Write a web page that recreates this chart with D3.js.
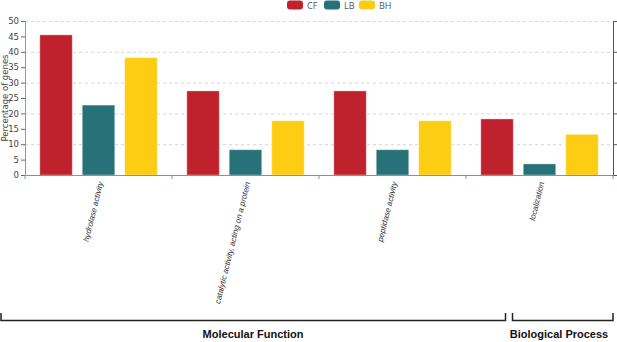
<!doctype html>
<html>
<head>
<script type="text/javascript" src="https://cdn.jsdelivr.net/npm/d3@7/dist/d3.min.js"></script>
<style>
  body { margin: 0; background: #fff; }
  svg { display: block; }
</style>
</head>
<body>
<svg width="617" height="342"></svg>
<script type="text/javascript">
var categories = ["hydrolase activity", "catalytic activity, acting on a protein", "peptidase activity", "localization"];
var seriesNames = ["CF", "LB", "BH"];
var seriesColors = ["#c0222d", "#277178", "#fccd12"];
var cfValues = [45.5, 27.3, 27.3, 18.2];
var lbValues = [22.7, 8.2, 8.2, 3.6];
var bhValues = [38.1, 17.6, 17.6, 13.2];
var yTicks = [0, 5, 10, 15, 20, 25, 30, 35, 40, 45, 50];
var gridTicks = [10, 20, 30, 40, 50];
var groups = [
  {name: "Molecular Function", from: 0, to: 2},
  {name: "Biological Process", from: 3, to: 3}
];

var seriesValues = [cfValues, lbValues, bhValues];
var rows = categories.map((c, i) => ({
  cat: c,
  vals: seriesNames.map((s, j) => ({key: s, value: seriesValues[j][i], color: seriesColors[j]}))
}));

var svg = d3.select("svg");
var plotLeft = 25, plotRight = 613, plotTop = 21, plotBottom = 175;

var x0 = d3.scaleBand().domain(categories).range([plotLeft, plotRight]);
var x1 = d3.scaleBand().domain(seriesNames)
  .range([14.8, x0.bandwidth() - 14.8]).paddingInner(0.235);
var y = d3.scaleLinear().domain([0, 50]).range([plotBottom, plotTop]);

// grid
svg.append("g").selectAll("line").data(gridTicks).enter().append("line")
  .attr("x1", plotLeft).attr("x2", plotRight)
  .attr("y1", d => y(d) + 0.5).attr("y2", d => y(d) + 0.5)
  .style("stroke", "#d6d6d6").style("stroke-dasharray", "3,3");

// bars
var catG = svg.append("g").selectAll("g").data(rows).enter().append("g")
  .attr("transform", d => "translate(" + x0(d.cat) + ",0)");
catG.selectAll("rect").data(d => d.vals).enter().append("rect")
  .attr("x", d => x1(d.key))
  .attr("width", x1.bandwidth())
  .attr("y", d => y(d.value))
  .attr("height", d => y(0) - y(d.value))
  .style("fill", d => d.color)
  .style("stroke", "#ffffff").style("stroke-opacity", 0.35).style("stroke-width", 1);

// left axis
var yAxis = svg.append("g").attr("transform", "translate(" + plotLeft + ",0)")
  .call(d3.axisLeft(y).tickValues(yTicks).tickSize(4).tickPadding(2));
yAxis.select(".domain").style("stroke", "#8a9ca0");
yAxis.selectAll(".tick line").style("stroke", "#666");
yAxis.selectAll("text").style("font-family", "'DejaVu Sans', sans-serif")
  .style("font-size", "8.5px").style("fill", "#444");

// right axis
var rAxis = svg.append("g").attr("transform", "translate(" + plotRight + ",0)")
  .call(d3.axisRight(y).tickValues([0].concat(gridTicks)).tickSize(4).tickFormat(""));
rAxis.select(".domain").style("stroke", "#555");
rAxis.selectAll(".tick line").style("stroke", "#555");

// bottom axis
var xAxis = svg.append("g").attr("transform", "translate(0," + plotBottom + ")");
xAxis.append("line").attr("x1", plotLeft).attr("x2", plotRight).attr("y1", 0.5).attr("y2", 0.5)
  .style("stroke", "#6a9ea3").style("stroke-width", 1.2);
xAxis.selectAll("line.tk").data(categories.concat(["end"])).enter().append("line")
  .attr("class", "tk")
  .attr("x1", (d, i) => plotLeft + i * x0.step()).attr("x2", (d, i) => plotLeft + i * x0.step())
  .attr("y1", 0).attr("y2", 4).style("stroke", "#6a9ea3");
xAxis.selectAll("text").data(categories).enter().append("text")
  .attr("transform", d => "translate(" + (x0(d) + x0.bandwidth() / 2 + 2) + ",7) rotate(-76)")
  .attr("text-anchor", "end").attr("dy", "0.35em")
  .style("font-family", "'Liberation Sans', Arial, sans-serif")
  .style("font-size", "8px").style("font-style", "italic").style("fill", "#333")
  .text(d => d);

// y title
svg.append("text").attr("transform", "translate(8,98) rotate(-90)")
  .attr("text-anchor", "middle")
  .style("font-family", "'DejaVu Sans', sans-serif").style("font-size", "8.5px").style("fill", "#444")
  .text("Percentage of genes");

// legend
var legX = [287, 324, 359];
var leg = svg.append("g").selectAll("g").data(seriesNames).enter().append("g")
  .attr("transform", (d, i) => "translate(" + legX[i] + ",0)");
leg.append("rect").attr("x", 0).attr("y", 0.5).attr("width", 16).attr("height", 9).attr("rx", 3)
  .style("fill", (d, i) => seriesColors[i]);
leg.append("text").attr("x", 20).attr("y", 8.5)
  .style("font-family", "'Open Sans', sans-serif").style("font-size", "9px").style("fill", "#555")
  .text(d => d);

// group brackets
var bracketX = [[1, 505.5], [512.5, 613]];
var br = svg.append("g").selectAll("g").data(groups).enter().append("g");
br.append("path")
  .attr("d", (d, i) => "M" + bracketX[i][0] + ",313V320.5H" + bracketX[i][1] + "V313")
  .style("fill", "none").style("stroke", "#222").style("stroke-width", 1.5);
br.append("text")
  .attr("x", (d, i) => i === 0 ? 253 : 559).attr("y", 338)
  .attr("text-anchor", "middle")
  .style("font-family", "'Liberation Sans', Arial, sans-serif")
  .style("font-size", "11px").style("font-weight", "bold").style("fill", "#111")
  .text(d => d.name);
</script>
</body>
</html>
